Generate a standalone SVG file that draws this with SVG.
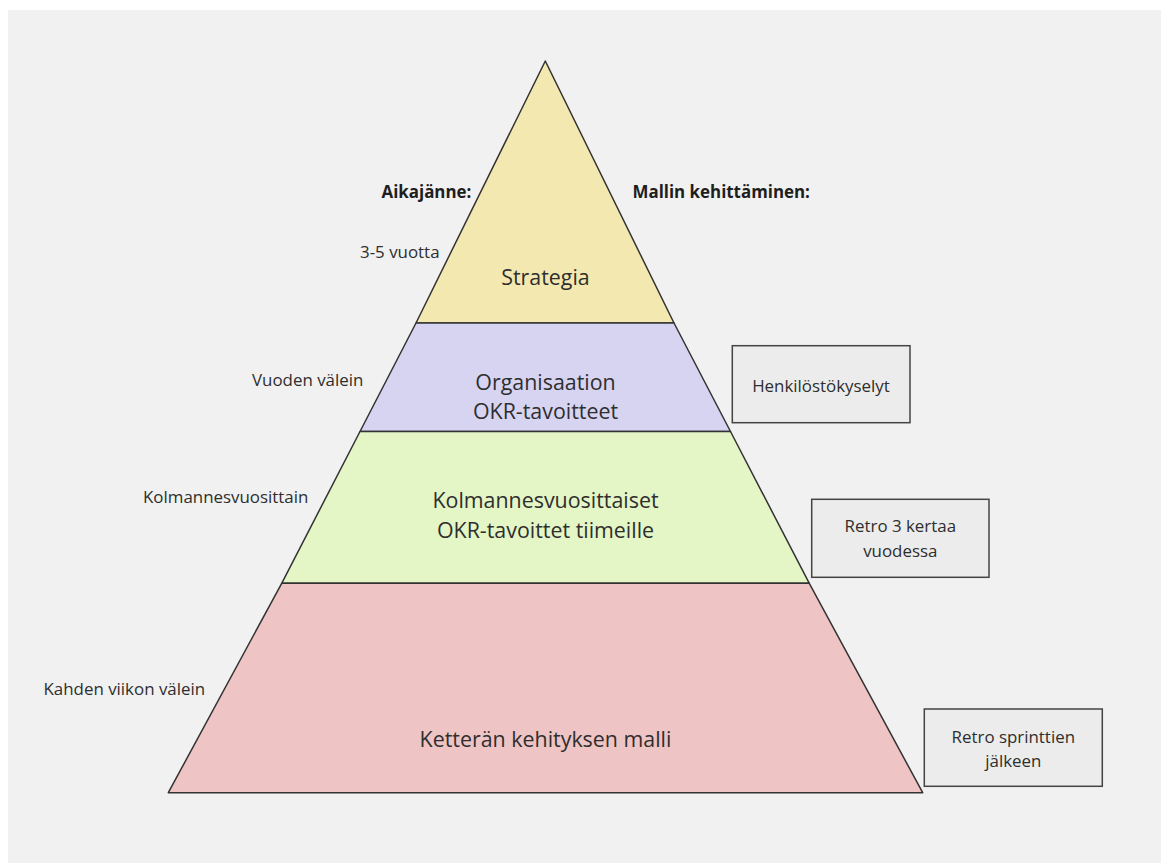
<svg xmlns="http://www.w3.org/2000/svg" width="1169" height="863" viewBox="0 0 1169 863">
<style>
.band{stroke:#333;stroke-width:1.5;stroke-linejoin:round}
.box{fill:#ececec;stroke:#444;stroke-width:1.5}
text{font-family:"Open Sans","Noto Sans","DejaVu Sans",sans-serif;fill:#2e2e2e}
.big{font-size:21.4px;text-anchor:middle}
.sm{font-size:16.9px}
.smc{font-size:16.9px;text-anchor:middle}
.hd{font-size:16.9px;font-weight:bold;fill:#1e1e1e}
</style>
<rect x="0" y="0" width="1169" height="863" fill="#ffffff"/>
<rect x="8" y="10" width="1153" height="853" fill="#f1f1f1"/>
<g id="strategia">
<polygon class="band" points="545.3,61 674,323 416,323" fill="#f3e9b0"/>
<text class="big" x="545.5" y="285">Strategia</text>
</g>
<g id="organisaatio">
<polygon class="band" points="416,323 674,323 730.5,431.5 360,431.5" fill="#d7d4f2"/>
<text class="big" x="545.5" y="390">Organisaation</text>
<text class="big" x="545.5" y="419">OKR-tavoitteet</text>
</g>
<g id="kolmannes">
<polygon class="band" points="360,431.5 730.5,431.5 809.3,583.3 281.7,583.3" fill="#e4f5c6"/>
<text class="big" x="545.5" y="508">Kolmannesvuosittaiset</text>
<text class="big" x="545.5" y="538">OKR-tavoittet tiimeille</text>
</g>
<g id="ketteran">
<polygon class="band" points="281.7,583.3 809.3,583.3 922.7,792.7 168.3,792.7" fill="#eec4c4"/>
<text class="big" x="545.5" y="747">Ketterän kehityksen malli</text>
</g>
<g id="labels">
<text class="hd" x="381.5" y="198">Aikajänne:</text>
<text class="hd" x="632.5" y="198">Mallin kehittäminen:</text>
<text class="sm" x="360" y="258">3-5 vuotta</text>
<text class="sm" x="252" y="386">Vuoden välein</text>
<text class="sm" x="143" y="503">Kolmannesvuosittain</text>
<text class="sm" x="43.5" y="694.5">Kahden viikon välein</text>
</g>
<g id="henkilosto">
<rect class="box" x="732.3" y="345.7" width="177.7" height="77"/>
<text class="smc" x="821" y="391.5">Henkilöstökyselyt</text>
</g>
<g id="retro3">
<rect class="box" x="811.7" y="499.3" width="177.3" height="78"/>
<text class="smc" x="900.3" y="531.5">Retro 3 kertaa</text>
<text class="smc" x="900.3" y="556.5">vuodessa</text>
</g>
<g id="retrosprint">
<rect class="box" x="924.3" y="709" width="178" height="77.3"/>
<text class="smc" x="1013.3" y="742.5">Retro sprinttien</text>
<text class="smc" x="1013.3" y="766.5">jälkeen</text>
</g>
<g id="connectors"></g>
</svg>
